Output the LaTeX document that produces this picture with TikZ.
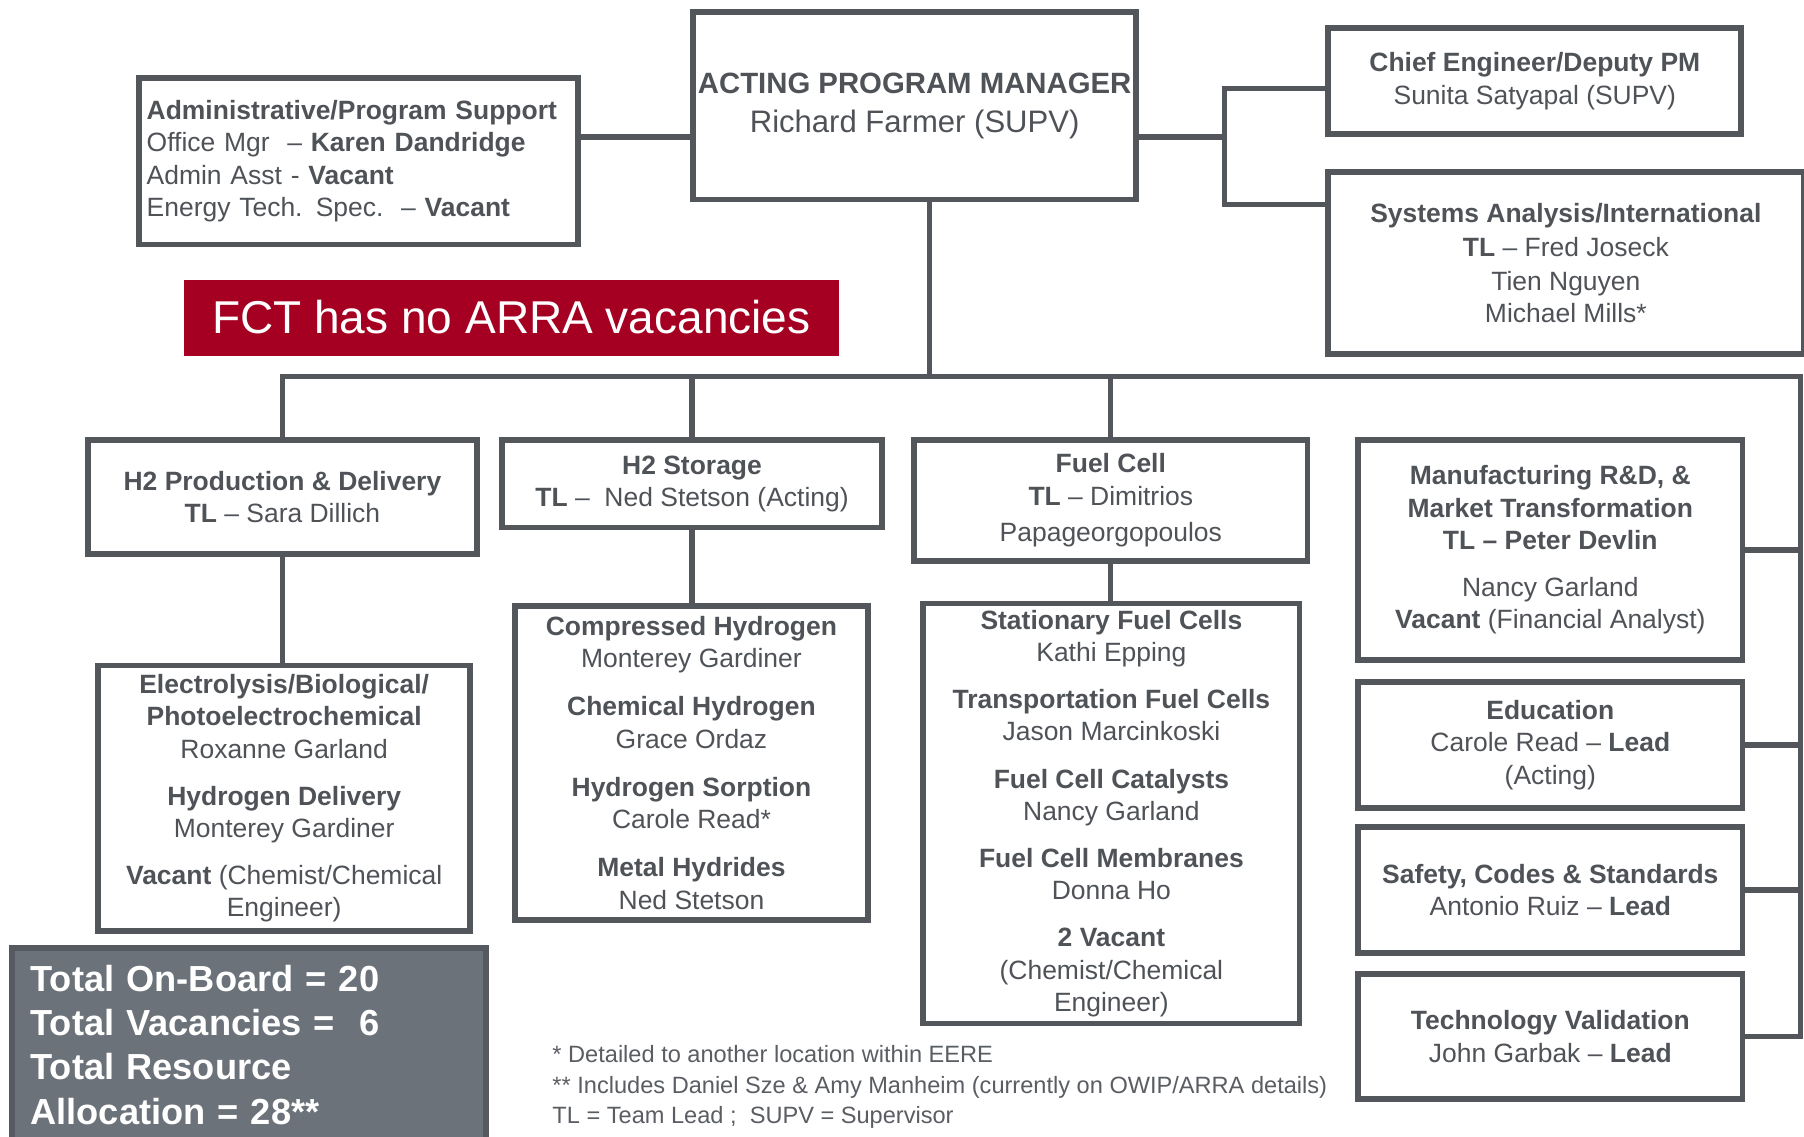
\documentclass[tikz,border=0pt]{standalone}
\usepackage{fontspec}
\setmainfont{Liberation Sans}
\usetikzlibrary{backgrounds}
\definecolor{boxgray}{HTML}{53575C}
\definecolor{txtgray}{HTML}{4F5358}
\definecolor{fctred}{HTML}{A50021}
\definecolor{totfill}{HTML}{6B727A}
\definecolor{totline}{HTML}{545A60}
\definecolor{notegray}{HTML}{5A5E63}
\begin{document}
\begin{tikzpicture}[x=1pt,y=-1pt,
  box/.style={draw=boxgray, line width=5pt, fill=white, rectangle, inner sep=2pt,
    align=center, text=txtgray, font=\fontsize{23}{28}\selectfont},
  conn/.style={draw=boxgray, line width=4.5pt, line join=miter},
]
\useasboundingbox (0,0) rectangle (1568,988);

% top level
\node[box, minimum width=385pt, minimum height=163pt, font=\fontsize{27}{34}\selectfont] (pm) at (795,92)
  {{\fontsize{25.5}{34}\selectfont\textbf{ACTING PROGRAM MANAGER}}\\
   Richard Farmer (SUPV)};
\node[box, text width=368pt, inner xsep=7pt, align=left, minimum height=145pt] (admin) at (311.5,140)
  {\textbf{Administrative/Program Support}\\
   Office Mgr~~– \textbf{Karen Dandridge}\\
   Admin Asst - \textbf{Vacant}\\
   Energy Tech. Spec.~~– \textbf{Vacant}};
\node[box, minimum width=359pt, minimum height=92pt] (chief) at (1334,70.5)
  {\textbf{Chief Engineer/Deputy PM}\\ Sunita Satyapal (SUPV)};
\node[box, minimum width=413pt, minimum height=158pt] (sys) at (1361,228.5)
  {\textbf{Systems Analysis/International}\\[2pt]
   \textbf{TL} – Fred Joseck\\[1pt]
   Tien Nguyen\\
   Michael Mills*};

\node[fill=fctred, text=white, minimum width=569pt, minimum height=66pt, inner sep=0pt,
  font=\fontsize{40}{48}\selectfont] (fct) at (444.5,276) {FCT has no ARRA vacancies};

% second level
\node[box, minimum width=338pt, minimum height=99pt] (h2p) at (245.5,432)
  {\textbf{H2 Production \& Delivery}\\ \textbf{TL} – Sara Dillich};
\node[box, minimum width=330pt, minimum height=76pt] (stor) at (601.5,420.5)
  {\textbf{H2 Storage}\\ \textbf{TL} –~ Ned Stetson (Acting)};
\node[box, minimum width=342pt, minimum height=105pt] (fc) at (965.5,435)
  {\textbf{Fuel Cell}\\ \textbf{TL} – Dimitrios\\[4pt] Papageorgopoulos};
\node[box, minimum width=334pt, minimum height=191pt] (mfg) at (1347.5,478)
  {\textbf{Manufacturing R\&D, \&}\\
   \textbf{Market Transformation}\\
   \textbf{TL – Peter Devlin}\\[13pt]
   Nancy Garland\\
   \textbf{Vacant} (Financial Analyst)};
\node[box, minimum width=334pt, minimum height=110pt] (edu) at (1347.5,647.5)
  {\textbf{Education}\\ Carole Read – \textbf{Lead}\\ (Acting)};
\node[box, minimum width=334pt, minimum height=110pt] (saf) at (1347.5,773.5)
  {\textbf{Safety, Codes \& Standards}\\ Antonio Ruiz – \textbf{Lead}};
\node[box, minimum width=334pt, minimum height=109pt] (tv) at (1347.5,901)
  {\textbf{Technology Validation}\\ John Garbak – \textbf{Lead}};

% third level
\node[box, minimum width=323pt, minimum height=231pt] (elec) at (247,694)
  {\textbf{Electrolysis/Biological/}\\
   \textbf{Photoelectrochemical}\\
   Roxanne Garland\\[13pt]
   \textbf{Hydrogen Delivery}\\
   Monterey Gardiner\\[13pt]
   \textbf{Vacant} (Chemist/Chemical\\
   Engineer)};
\node[box, minimum width=307pt, minimum height=273pt] (comp) at (601,663)
  {\textbf{Compressed Hydrogen}\\
   Monterey Gardiner\\[14pt]
   \textbf{Chemical Hydrogen}\\
   Grace Ordaz\\[14pt]
   \textbf{Hydrogen Sorption}\\
   Carole Read*\\[14pt]
   \textbf{Metal Hydrides}\\
   Ned Stetson};
\node[box, minimum width=327pt, minimum height=365pt] (stat) at (966,707)
  {\textbf{Stationary Fuel Cells}\\
   Kathi Epping\\[13pt]
   \textbf{Transportation Fuel Cells}\\
   Jason Marcinkoski\\[13pt]
   \textbf{Fuel Cell Catalysts}\\
   Nancy Garland\\[13pt]
   \textbf{Fuel Cell Membranes}\\
   Donna Ho\\[13pt]
   \textbf{2 Vacant}\\
   (Chemist/Chemical\\
   Engineer)};

% totals and notes
\node[draw=totline, line width=5pt, fill=totfill, text=white, text width=380pt, inner xsep=16pt,
  align=left, minimum height=168pt, font=\fontsize{31.5}{38.5}\selectfont\bfseries] (tot) at (216.5,908)
  {Total On-Board = 20\\
   Total Vacancies = ~6\\
   Total Resource\\
   Allocation = 28**};
\node[anchor=west, align=left, inner sep=0pt, text=notegray,
  font=\fontsize{20.5}{26.5}\selectfont] (notes) at (480,945)
  {* Detailed to another location within EERE\\
   ** Includes Daniel Sze \& Amy Manheim (currently on OWIP/ARRA details)\\
   TL = Team Lead ;~~SUPV = Supervisor};

% junction coordinates
\coordinate (ya) at (0,119);
\coordinate (jr) at (1064,119);
\coordinate (jrt) at (1064,77);
\coordinate (jrb) at (1064,178);
\coordinate (jd) at (808,327);
\coordinate (bl) at (245.5,327);
\coordinate (br) at (1565,327);

\begin{scope}[on background layer]
\fill[white] (0,0) rectangle (1568,988);
\draw[conn] (admin.east |- ya) -- (pm.west |- ya);
\draw[conn] (pm.east |- ya) -- (jr);
\draw[conn] (chief.west |- jrt) -- (jrt) -- (jrb) -- (sys.west |- jrb);
\draw[conn] (pm.south -| jd) -- (jd);
\draw[conn] (h2p.north) -- (bl) -- (br) -- (tv.east -| br) -- (tv.east);
\draw[conn] (stor.north) -- (stor.north |- bl);
\draw[conn] (fc.north) -- (fc.north |- bl);
\draw[conn] (mfg.east) -- (mfg.east -| br);
\draw[conn] (edu.east) -- (edu.east -| br);
\draw[conn] (saf.east) -- (saf.east -| br);
\draw[conn] (h2p.south) -- (h2p.south |- elec.north);
\draw[conn] (stor.south) -- (stor.south |- comp.north);
\draw[conn] (fc.south) -- (fc.south |- stat.north);
\end{scope}
\end{tikzpicture}
\end{document}
